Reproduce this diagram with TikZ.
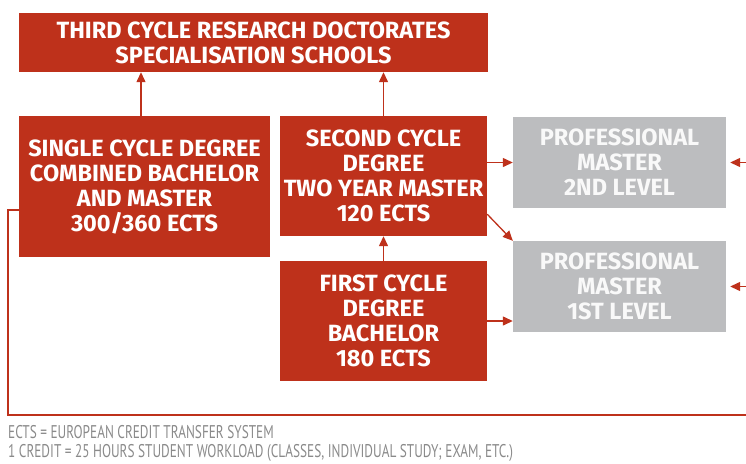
\documentclass[tikz,border=0pt]{standalone}
\usepackage{fontspec}
\setmainfont{PT Sans}
\newfontfamily\boxfont{Fira Sans}
\newfontfamily\notefont[FakeStretch=0.72]{PT Sans}
\usetikzlibrary{arrows.meta}
\definecolor{unired}{HTML}{BE311B}
\definecolor{unigray}{HTML}{BCBDBF}
\definecolor{notegray}{HTML}{8A8A8A}
\begin{document}
\begin{tikzpicture}[x=1pt,y=-1pt,
	redbox/.style={rectangle, fill=unired, text=white, inner sep=0pt, align=center, font=\boxfont\bfseries\fontsize{23.5}{25}\selectfont},
	graybox/.style={redbox, fill=unigray, text=white!95!gray},
	link/.style={draw=unired, line width=1.3pt, -{Triangle[length=10pt,width=9pt]}},
	note/.style={anchor=base west, inner sep=0pt, text=notegray, font=\notefont\fontsize{18.4}{20}\selectfont}]
	\path[use as bounding box, clip] (0,0) rectangle (746,463);
	\node (third)  at (253.5,  42.5)	[redbox, minimum width=469pt, minimum height=59pt]	{THIRD CYCLE RESEARCH DOCTORATES\\SPECIALISATION SCHOOLS};
	\node (single) at (144.5, 186.5)	[redbox, minimum width=251pt, minimum height=141pt]	{SINGLE CYCLE DEGREE\\COMBINED BACHELOR\\AND MASTER\\300/360 ECTS};
	\node (second) at (383.5, 176)	[redbox, minimum width=207pt, minimum height=120pt]	{SECOND CYCLE\\DEGREE\\TWO YEAR MASTER\\120 ECTS};
	\node (first)  at (383.5, 321)	[redbox, minimum width=207pt, minimum height=120pt]	{FIRST CYCLE\\DEGREE\\BACHELOR\\180 ECTS};
	\node (pm2)    at (619.5, 162.5)	[graybox, minimum width=213pt, minimum height=91pt]	{PROFESSIONAL\\MASTER\\2ND LEVEL};
	\node (pm1)    at (619.5, 286.5)	[graybox, minimum width=213pt, minimum height=91pt]	{PROFESSIONAL\\MASTER\\1ST LEVEL};
	\coordinate (loopL) at (8, 415);
	\coordinate (loopR) at (766, 415);
	\draw[link] ([xshift=-3.5pt]single.north) -- ([xshift=-3.5pt]single.north |- third.south);
	\draw[link] (second.north) -- (second.north |- third.south);
	\draw[link] (first.north) -- (second.south);
	\draw[link] (second.east |- pm2.west) -- (pm2.west);
	\draw[link] ([yshift=22pt]second.south east) -- (pm1.north west);
	\draw[link] (first.east) -- (first.east -| pm1.west);
	\draw[draw=unired, line width=1.3pt] ([yshift=-23.5pt]single.west) -| (loopL) -- (loopR) -- (loopR |- pm2.east);
	\draw[link] (loopR |- pm2.east) -- ([xshift=4pt]pm2.east);
	\draw[link] (loopR |- pm1.east) -- ([xshift=4pt]pm1.east);
	\node (ects)   at (8, 438)	[note]	{ECTS = EUROPEAN CREDIT TRANSFER SYSTEM};
	\node (credit) at (8, 457)	[note]	{1 CREDIT = 25 HOURS STUDENT WORKLOAD (CLASSES, INDIVIDUAL STUDY; EXAM, ETC.)};
\end{tikzpicture}
\end{document}
